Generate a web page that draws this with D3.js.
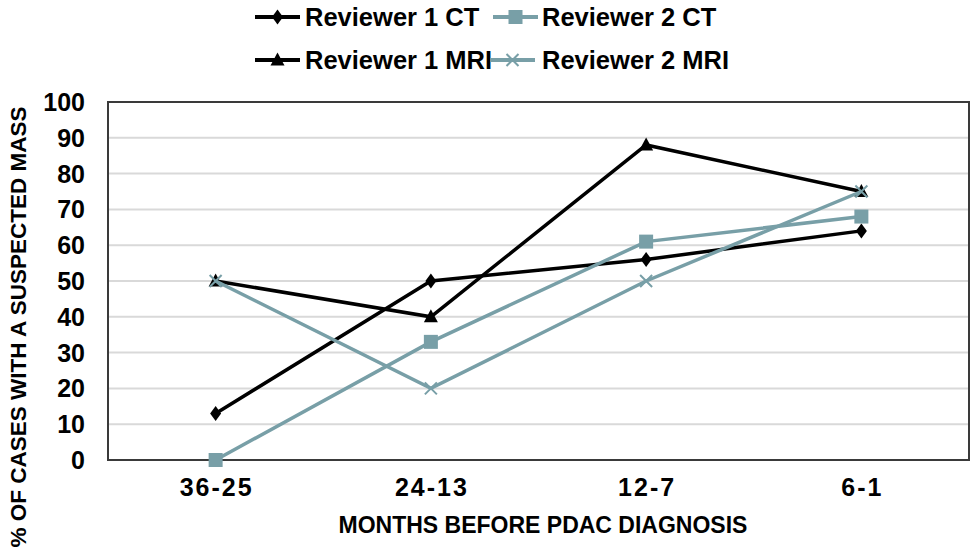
<!DOCTYPE html>
<meta charset="utf-8">
<head>
<title>Suspected mass by months before PDAC diagnosis</title>
<script src="https://d3js.org/d3.v7.min.js"></script>
<style>
  body { margin: 0; background: #fff; }
  text { font-family: "Liberation Sans", Arial, sans-serif; font-weight: bold; fill: #000; }
</style>
</head>
<body>
<div id="chart"></div>
<script>
// categories + values
var months = ["36-25", "24-13", "12-7", "6-1"];
var r1CT  = [13, 50, 56, 64];
var r2CT  = [0, 33, 61, 68];
var r1MRI = [50, 40, 88, 75];
var r2MRI = [50, 20, 50, 75];
var yTicks = [0, 10, 20, 30, 40, 50, 60, 70, 80, 90, 100];

var teal = "#789fa7";
var series = [
  {name: "Reviewer 1 CT",  vals: r1CT,  color: "#000", marker: "diamond"},
  {name: "Reviewer 2 CT",  vals: r2CT,  color: teal,   marker: "square"},
  {name: "Reviewer 1 MRI", vals: r1MRI, color: "#000", marker: "triangle"},
  {name: "Reviewer 2 MRI", vals: r2MRI, color: teal,   marker: "cross"}
];

var W = 971, H = 549;
var plot = {left: 108, right: 969, top: 102, bottom: 460};

var svg = d3.select("#chart").append("svg")
  .attr("width", W).attr("height", H);

var x = d3.scalePoint().domain(months).range([plot.left, plot.right]).padding(0.5);
var y = d3.scaleLinear().domain([0, 100]).range([plot.bottom, plot.top]);

// gridlines
svg.append("g").selectAll("line")
  .data(yTicks.filter(d => d > 0 && d < 100))
  .enter().append("line")
  .attr("x1", plot.left).attr("x2", plot.right)
  .attr("y1", d => y(d)).attr("y2", d => y(d))
  .attr("stroke", "#d9d9d9").attr("stroke-width", 2);

// frame
svg.append("rect")
  .attr("x", plot.left).attr("y", plot.top)
  .attr("width", plot.right - plot.left).attr("height", plot.bottom - plot.top)
  .attr("fill", "none").attr("stroke", "#3a3a3a").attr("stroke-width", 2);

// y tick labels
svg.append("g").selectAll("text")
  .data(yTicks).enter().append("text")
  .attr("x", 85).attr("y", d => y(d))
  .attr("dy", "0.36em")
  .attr("text-anchor", "end")
  .style("font-size", "25px")
  .text(d => d);

// x tick labels
svg.append("g").selectAll("text")
  .data(months).enter().append("text")
  .attr("x", d => x(d) + 1).attr("y", 496)
  .attr("text-anchor", "middle")
  .style("font-size", "25px")
  .style("letter-spacing", "2px")
  .text(d => d);

// axis titles
svg.append("text")
  .attr("x", 543).attr("y", 533)
  .attr("text-anchor", "middle")
  .style("font-size", "23px")
  .text("MONTHS BEFORE PDAC DIAGNOSIS");

svg.append("text")
  .attr("transform", "translate(26,327) rotate(-90)")
  .attr("text-anchor", "middle")
  .style("font-size", "22.5px")
  .text("% OF CASES WITH A SUSPECTED MASS");

function drawMarker(g, type, cx, cy, color) {
  if (type == "diamond") {
    g.append("path").attr("d", `M${cx},${cy-7.5}L${cx+5.5},${cy}L${cx},${cy+7.5}L${cx-5.5},${cy}Z`).attr("fill", color);
  } else if (type == "square") {
    g.append("rect").attr("x", cx - 7).attr("y", cy - 7).attr("width", 14).attr("height", 14).attr("fill", color);
  } else if (type == "triangle") {
    g.append("path").attr("d", `M${cx},${cy-7.5}L${cx+7},${cy+5.5}L${cx-7},${cy+5.5}Z`).attr("fill", color);
  } else {
    g.append("path").attr("d", `M${cx-6},${cy-6}L${cx+6},${cy+6}M${cx+6},${cy-6}L${cx-6},${cy+6}`)
      .attr("stroke", color).attr("stroke-width", 2).attr("fill", "none");
  }
}

var line = d3.line().x((d, i) => x(months[i])).y(d => y(d));

series.forEach(function(s) {
  var g = svg.append("g");
  g.append("path")
    .datum(s.vals)
    .attr("d", line)
    .attr("fill", "none")
    .attr("stroke", s.color)
    .attr("stroke-width", 3.5);
  s.vals.forEach(function(v, i) {
    drawMarker(g, s.marker, x(months[i]), y(v), s.color);
  });
});

// legend
var legendPos = [
  {lx: 255, tx: 305, y: 17},
  {lx: 493, tx: 542, y: 17},
  {lx: 255, tx: 305, y: 60},
  {lx: 490, tx: 542, y: 60}
];
series.forEach(function(s, i) {
  var p = legendPos[i];
  var g = svg.append("g");
  g.append("line")
    .attr("x1", p.lx).attr("x2", p.lx + 45)
    .attr("y1", p.y).attr("y2", p.y)
    .attr("stroke", s.color).attr("stroke-width", 3.8);
  drawMarker(g, s.marker, p.lx + 22.5, p.y, s.color);
  g.append("text")
    .attr("x", p.tx).attr("y", p.y)
    .attr("dy", "0.36em")
    .style("font-size", "25.5px")
    .text(s.name);
});
</script>
</body>
</html>
